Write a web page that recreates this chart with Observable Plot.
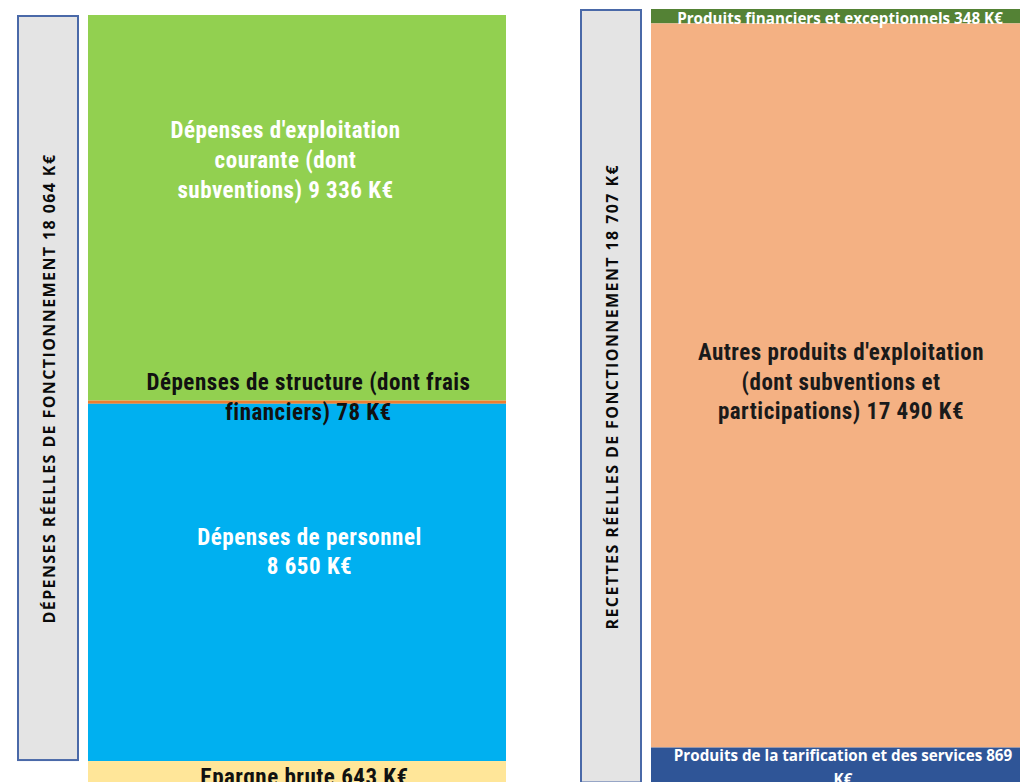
<!DOCTYPE html>
<html><head><meta charset="utf-8">
<script src="https://cdn.jsdelivr.net/npm/d3@7"></script>
<script src="https://cdn.jsdelivr.net/npm/@observablehq/plot@0.6"></script>
<style>
body{margin:0;background:#fff;}
#chart{position:relative;width:1020px;height:782px;overflow:hidden;}
#chart svg{position:absolute;top:0;overflow:visible;}
</style></head><body><div id="chart"></div>
<script>
// ---- data (top to bottom as shown) ----
const depensesCategories = [
  "Dépenses d'exploitation\ncourante (dont\nsubventions) {v} K€",
  "Dépenses de structure (dont frais\nfinanciers) {v} K€",
  "Dépenses de personnel\n{v} K€",
  "Epargne brute {v} K€"
];
const depensesValues = [9336, 78, 8650, 643];
const depensesTotalLabel = "DÉPENSES RÉELLES DE FONCTIONNEMENT {v} K€";
const depensesTotal = 18064;

const recettesCategories = [
  "Produits financiers et exceptionnels {v} K€",
  "Autres produits d'exploitation\n(dont subventions et\nparticipations) {v} K€",
  "Produits de la tarification et des services {v}\nK€"
];
const recettesValues = [348, 17490, 869];
const recettesTotalLabel = "RECETTES RÉELLES DE FONCTIONNEMENT {v} K€";
const recettesTotal = 18707;

// ---- styles ----
const NARROW = '"Roboto Condensed", "Liberation Sans Narrow", "DejaVu Sans Condensed", sans-serif';
const WIDE = '"Open Sans", "DejaVu Sans", sans-serif';
const big = {font: NARROW, size: 23, lh: 1.3, ls: "0.5px"};
const small = {font: WIDE, size: 15.2, lh: 1.57, ls: "0px"};
const depStyles = [
  {fill:"#92d050", text:"#ffffff", ...big, dx:-12, dy:-50},
  {fill:"#ed7d31", text:"#111111", ...big, dx:11, dy:-7},
  {fill:"#00b0f0", text:"#ffffff", ...big, dx:12, dy:-33},
  {fill:"#ffe699", text:"#111111", ...big, dx:7, dy:1}
];
const recStyles = [
  {fill:"#548235", text:"#ffffff", ...small, dx:4, dy:0},
  {fill:"#f4b183", text:"#1a1a1a", ...big, dx:5, dy:-6},
  {fill:"#2f5597", text:"#ffffff", ...small, dx:7, dy:-1}
];
const fmt = n => d3.format(",")(n).replace(/,/g, " ");
const fill = (t, v) => t.replace("{v}", fmt(v));

const chart = document.getElementById("chart");

function segments(labels, values) {
  const total = d3.sum(values);
  let top = total;
  return labels.map((l, i) => {
    const hi = top, lo = top - values[i];
    top = lo;
    return {label: fill(l, values[i]), value: values[i], lo, hi, mid: (lo + hi) / 2, i};
  });
}

function place(svg, left) {
  svg.style.left = left + "px";
  chart.appendChild(svg);
}

function columnPlot({key, width, yRange, domainMax, marks}) {
  return Plot.plot({
    width, height: 782, margin: 0,
    x: {domain: [key], padding: 0, axis: null},
    y: {domain: [0, domainMax], range: yRange, axis: null},
    color: {type: "identity"},
    style: {fontFamily: NARROW, background: "transparent"},
    marks
  });
}

function styleTexts(svg, cls, font, ls) {
  svg.querySelectorAll("g." + cls + " text, g." + cls).forEach(el => {
    el.style.fontFamily = font;
    el.style.letterSpacing = ls;
  });
}

function totalColumn({key, width, left, yRange, domainMax, lo, hi, label}) {
  const d = [{key, lo, hi, mid: (lo + hi) / 2, label}];
  const svg = columnPlot({key, width, yRange, domainMax, marks: [
    Plot.barY(d, {x: "key", y1: "lo", y2: "hi", fill: "#e4e4e4", stroke: "#4a69a8", strokeWidth: 2, inset: 1}),
    Plot.text(d, {x: "key", y: "mid", text: "label", rotate: -90, fontSize: 16, fontWeight: "bold",
      fill: "#0a0a0a", dx: 1, className: "vlabel"})
  ]});
  styleTexts(svg, "vlabel", WIDE, "1.4px");
  place(svg, left);
}

function stackColumn({key, width, left, yRange, domainMax, segs, styles}) {
  const rows = segs.map((s, i) => ({...s, key, color: styles[i].fill}));
  const marks = [
    Plot.barY(rows, {x: "key", y1: "lo", y2: "hi", fill: "color"})
  ];
  rows.forEach((r, i) => {
    const st = styles[i];
    marks.push(Plot.text([r], {x: "key", y: "mid", text: "label", fill: st.text, fontSize: st.size,
      fontWeight: "bold", lineHeight: st.lh, dx: st.dx, dy: st.dy, className: "seg" + i}));
  });
  const svg = columnPlot({key, width, yRange, domainMax, marks});
  rows.forEach((r, i) => styleTexts(svg, "seg" + i, styles[i].font, styles[i].ls));
  place(svg, left);
}

const domainMax = d3.max([d3.sum(depensesValues), d3.sum(recettesValues)]);
const depSegs = segments(depensesCategories, depensesValues);
const recSegs = segments(recettesCategories, recettesValues);

const leftRange = [787.6, 15];
const rightRange = [783.5, 9];

// Left group: total box covers all segments above "Epargne brute"
totalColumn({key: "dep-total", width: 62, left: 17, yRange: leftRange, domainMax,
  lo: d3.sum(depensesValues) - depensesTotal, hi: d3.sum(depensesValues),
  label: fill(depensesTotalLabel, depensesTotal)});
stackColumn({key: "dep", width: 418, left: 88, yRange: leftRange, domainMax, segs: depSegs, styles: depStyles});

// Right group
totalColumn({key: "rec-total", width: 62, left: 580, yRange: rightRange, domainMax,
  lo: d3.sum(recettesValues) - recettesTotal, hi: d3.sum(recettesValues),
  label: fill(recettesTotalLabel, recettesTotal)});
stackColumn({key: "rec", width: 369, left: 651, yRange: rightRange, domainMax, segs: recSegs, styles: recStyles});
</script>
</body></html>
